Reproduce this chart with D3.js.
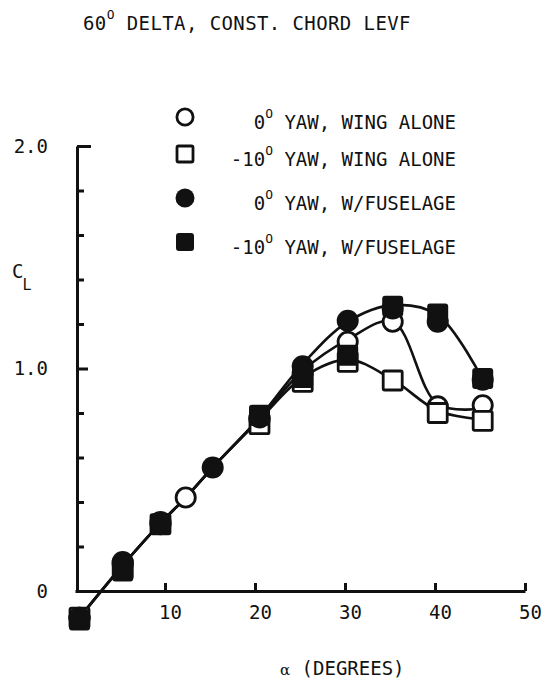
<!DOCTYPE html>
<html>
<head>
<meta charset="utf-8">
<script src="https://cdn.jsdelivr.net/npm/d3@7/dist/d3.min.js"></script>
<style>
    body { margin: 0; background: #fff; }
    svg text { font-family: "DejaVu Sans Mono", monospace; fill: #111; }
</style>
</head>
<body>
<svg id="svg-main" width="552" height="684"></svg>
<script>
// measured points, alpha in degrees, CL
var alphaWing0 = [0.5, 5.3, 9.5, 12.3, 20.5, 25.3, 30.3, 35.3, 40.3, 45.3];
var clWing0    = [-0.12, 0.12, 0.30, 0.42, 0.77, 0.98, 1.12, 1.21, 0.83, 0.835];
var alphaWing10 = [0.5, 5.3, 9.5, 20.5, 25.3, 30.3, 35.3, 40.3, 45.3];
var clWing10    = [-0.12, 0.10, 0.30, 0.75, 0.94, 1.03, 0.946, 0.80, 0.765];
var alphaFus0 = [0.5, 5.3, 9.5, 15.3, 20.5, 25.3, 30.3, 35.3, 40.3, 45.3];
var clFus0    = [-0.12, 0.13, 0.31, 0.555, 0.78, 1.01, 1.215, 1.27, 1.21, 0.95];
var alphaFus10 = [0.5, 5.3, 9.5, 20.5, 25.3, 30.3, 35.3, 40.3, 45.3];
var clFus10    = [-0.13, 0.09, 0.30, 0.79, 0.96, 1.06, 1.28, 1.245, 0.955];

// faired curves drawn through the points
var alphaFair   = [0.5, 5.3, 9.5, 12.3, 15.3, 20.5, 25.3, 30.3, 35.3, 40.3, 45.3];
var clFairFus   = [-0.12, 0.115, 0.305, 0.42, 0.555, 0.78, 1.02, 1.21, 1.285, 1.24, 0.95];
var clFairWing0 = [-0.12, 0.115, 0.305, 0.42, 0.555, 0.775, 0.99, 1.13, 1.21, 0.84, 0.82];
var clFairWing10 = [-0.12, 0.115, 0.305, 0.42, 0.555, 0.77, 0.96, 1.04, 0.95, 0.81, 0.77];

var xTicks = [10, 20, 30, 40, 50];
var yTicks = [0.2, 0.4, 0.6, 0.8, 1.0, 1.2, 1.4, 1.6, 1.8, 2.0];
var yLabels = [0, 1, 2];

var legendItems = [
    {pre: "0", text: " YAW, WING ALONE", shape: "circle", filled: false},
    {pre: "-10", text: " YAW, WING ALONE", shape: "square", filled: false},
    {pre: "0", text: " YAW, W/FUSELAGE", shape: "circle", filled: true},
    {pre: "-10", text: " YAW, W/FUSELAGE", shape: "square", filled: true}
];

var svg = d3.select("#svg-main");
var ink = "#111";
var fontSize = 19;

var x = d3.scaleLinear().domain([0, 50]).range([75, 525]);
var y = d3.scaleLinear().domain([0, 2]).range([591, 146]);

function zip(xs, ys) {
    return xs.map(function (a, i) { return [a, ys[i]]; });
}

// text with a raised small O used as degree sign
function degreeText(t, before, after) {
    t.append("tspan").text(before);
    t.append("tspan").attr("font-size", 13).attr("dy", -11).text("O");
    t.append("tspan").attr("dy", 11).text(after);
}

function drawMarker(g, shape, filled, size) {
    var stroke = filled ? 0 : 2.8;
    if (shape === "circle") {
        g.append("circle")
            .attr("r", filled ? size / 2 : size / 2 - 1.4)
            .attr("fill", filled ? ink : "#fff")
            .attr("stroke", ink)
            .attr("stroke-width", stroke);
    } else {
        var s = filled ? size - 1 : size - 3;
        g.append("rect")
            .attr("x", -s / 2).attr("y", -s / 2)
            .attr("width", s).attr("height", s)
            .attr("rx", filled ? 3 : 1.5)
            .attr("fill", filled ? ink : "#fff")
            .attr("stroke", ink)
            .attr("stroke-width", stroke);
    }
}

// title
var title = svg.append("text")
    .attr("x", 83).attr("y", 30)
    .attr("font-size", fontSize)
    .attr("letter-spacing", 0.4);
degreeText(title, "60", " DELTA, CONST. CHORD LEVF");

// y axis, ticks pointing inward
var yAxis = svg.append("g")
    .attr("transform", "translate(77,0)")
    .call(d3.axisRight(y).tickValues(yTicks).tickSize(7).tickSizeOuter(0).tickFormat(""));
yAxis.selectAll("line").attr("stroke", ink).attr("stroke-width", 3);
yAxis.selectAll(".tick").filter(function (d) { return d === 1.0; }).select("line").attr("x2", 11);
yAxis.selectAll(".tick").filter(function (d) { return d === 2.0; }).select("line").attr("x2", 14);
yAxis.select(".domain").attr("stroke", ink).attr("stroke-width", 3);

var yLab = svg.append("g")
    .attr("transform", "translate(77,0)")
    .call(d3.axisLeft(y).tickValues(yLabels).tickSize(0).tickPadding(29)
        .tickFormat(function (d) { return d === 0 ? "0" : d3.format(".1f")(d); }));
yLab.select(".domain").remove();
yLab.selectAll("text").attr("font-size", fontSize)
    .style("font-family", "DejaVu Sans Mono").attr("fill", ink);

// x axis
var xAxis = svg.append("g")
    .attr("transform", "translate(0,591)")
    .call(d3.axisTop(x).tickValues(xTicks).tickSize(8).tickSizeOuter(0).tickFormat(""));
xAxis.selectAll("line").attr("stroke", ink).attr("stroke-width", 3);
xAxis.select(".domain").attr("stroke", ink).attr("stroke-width", 3);

var xLab = svg.append("g")
    .attr("transform", "translate(5,591)")
    .call(d3.axisBottom(x).tickValues(xTicks).tickSize(0).tickPadding(15));
xLab.select(".domain").remove();
xLab.selectAll("text").attr("font-size", fontSize).style("font-family", "DejaVu Sans Mono").attr("fill", ink);

// axis titles
var cl = svg.append("text").attr("x", 12).attr("y", 278).attr("font-size", fontSize);
cl.append("tspan").text("C");
cl.append("tspan").attr("font-size", 15).attr("dy", 12).attr("dx", -1).text("L");

var xt = svg.append("text").attr("x", 280).attr("y", 675).attr("font-size", fontSize);
xt.append("tspan").attr("font-size", 15).style("font-family", "DejaVu Serif").text("\u03b1");
xt.append("tspan").text(" (DEGREES)");

// faired curves
var line = d3.line()
    .x(function (d) { return x(d[0]); })
    .y(function (d) { return y(d[1]); })
    .curve(d3.curveCatmullRom.alpha(0.5));

[clFairWing10, clFairWing0, clFairFus].forEach(function (c) {
    svg.append("path")
        .attr("d", line(zip(alphaFair, c)))
        .attr("fill", "none")
        .attr("stroke", ink)
        .attr("stroke-width", 2.6);
});

// points: open symbols first, filled ones on top
var series = [
    {a: alphaWing0, c: clWing0, shape: "circle", filled: false},
    {a: alphaWing10, c: clWing10, shape: "square", filled: false},
    {a: alphaFus10, c: clFus10, shape: "square", filled: true},
    {a: alphaFus0, c: clFus0, shape: "circle", filled: true}
];

series.forEach(function (s) {
    svg.append("g")
        .selectAll("g")
        .data(zip(s.a, s.c))
        .enter().append("g")
        .attr("transform", function (d) { return "translate(" + x(d[0]) + "," + y(d[1]) + ")"; })
        .each(function () { drawMarker(d3.select(this), s.shape, s.filled, 22); });
});

// legend
var markerY = [117, 154, 198, 242];
var legend = svg.append("g");
legendItems.forEach(function (item, i) {
    var g = legend.append("g").attr("transform", "translate(185," + markerY[i] + ")");
    drawMarker(g, item.shape, item.filled, 19);
    var t = legend.append("text")
        .attr("x", 456).attr("y", markerY[i] + 12)
        .attr("text-anchor", "end")
        .attr("font-size", fontSize);
    degreeText(t, item.pre, item.text);
});
</script>
</body>
</html>
